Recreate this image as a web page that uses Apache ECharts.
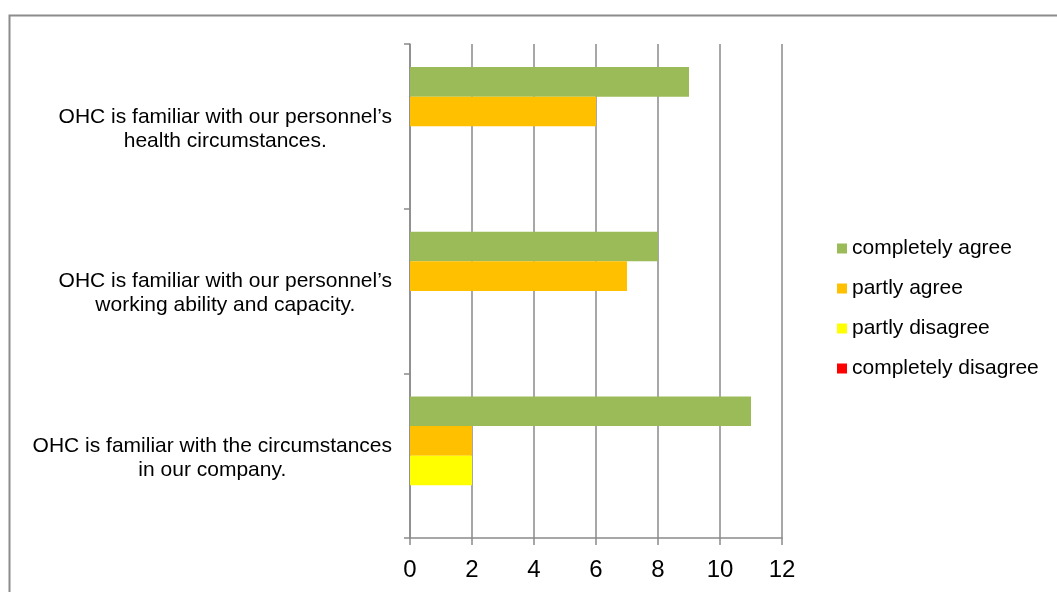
<!DOCTYPE html>
<html>
<head>
<meta charset="utf-8">
<title>OHC familiarity survey</title>
<script src="https://cdn.jsdelivr.net/npm/echarts@6/dist/echarts.min.js"></script>
<style>
  html, body { margin: 0; padding: 0; background: #ffffff; }
  #chart { width: 1057px; height: 592px; }
</style>
</head>
<body>
<div id="chart"></div>
<script>
// Statements, listed top to bottom
const categories = [
  'OHC is familiar with our personnel\u2019s\nhealth circumstances.',
  'OHC is familiar with our personnel\u2019s\nworking ability and capacity.',
  'OHC is familiar with the circumstances\nin our company.'
];

const seriesNames = ['completely agree', 'partly agree', 'partly disagree', 'completely disagree'];
const completelyAgree = [9, 8, 11];
const partlyAgree = [6, 7, 2];
const partlyDisagree = [0, 0, 2];
const completelyDisagree = [0, 0, 0];

const xTicks = { min: 0, max: 12, interval: 2 };
const colors = ['#9BBB59', '#FFC000', '#FFFF00', '#FF0000'];

const seriesValues = [completelyAgree, partlyAgree, partlyDisagree, completelyDisagree];
const fontFamily = '"Liberation Sans", Arial, sans-serif';
const gridGrey = '#8a8a8a';

const chart = echarts.init(document.getElementById('chart'), null, { renderer: 'canvas' });

chart.setOption({
  animation: false,
  backgroundColor: '#ffffff',
  textStyle: { fontFamily: fontFamily, color: '#000000' },
  graphic: [{
    type: 'rect',
    shape: { x: 9.5, y: 15.5, width: 1080, height: 620 },
    style: { fill: 'none', stroke: '#8c8c8c', lineWidth: 2 },
    silent: true,
    z: -10
  }],
  grid: { left: 410, right: 275, top: 44, bottom: 54, containLabel: false },
  legend: {
    orient: 'vertical',
    left: 837,
    top: 238,
    padding: 0,
    itemWidth: 10,
    itemHeight: 10,
    itemGap: 19,
    icon: 'rect',
    data: seriesNames,
    textStyle: { fontSize: 21, lineHeight: 21, color: '#000000', fontFamily: fontFamily }
  },
  xAxis: {
    type: 'value',
    min: xTicks.min,
    max: xTicks.max,
    interval: xTicks.interval,
    axisLine: { show: true, lineStyle: { color: gridGrey, width: 1.5 } },
    axisTick: { show: true, length: 7, lineStyle: { color: gridGrey, width: 1.5 } },
    axisLabel: { fontSize: 24, color: '#000000', margin: 20, fontFamily: fontFamily },
    splitLine: { show: true, lineStyle: { color: gridGrey, width: 1.5 } }
  },
  yAxis: {
    type: 'category',
    inverse: true,
    data: categories,
    boundaryGap: true,
    axisLine: { show: true, lineStyle: { color: gridGrey, width: 1.5 } },
    axisTick: { show: true, length: 6, lineStyle: { color: gridGrey, width: 1.5 } },
    axisLabel: {
      align: 'right',
      margin: 18,
      padding: [5, 0, 0, 0],
      // each line is centred inside the right-aligned text block
      formatter: (value) => value.split('\n').map(line => '{c|' + line + '}').join('\n'),
      rich: {
        c: {
          align: 'center',
          fontSize: 21,
          lineHeight: 24,
          color: '#000000',
          fontFamily: fontFamily
        }
      }
    },
    splitLine: { show: false }
  },
  series: seriesNames.map((name, i) => ({
    name: name,
    type: 'bar',
    data: seriesValues[i],
    barGap: '0%',
    barCategoryGap: '28%',
    itemStyle: { color: colors[i] }
  }))
});
</script>
</body>
</html>
